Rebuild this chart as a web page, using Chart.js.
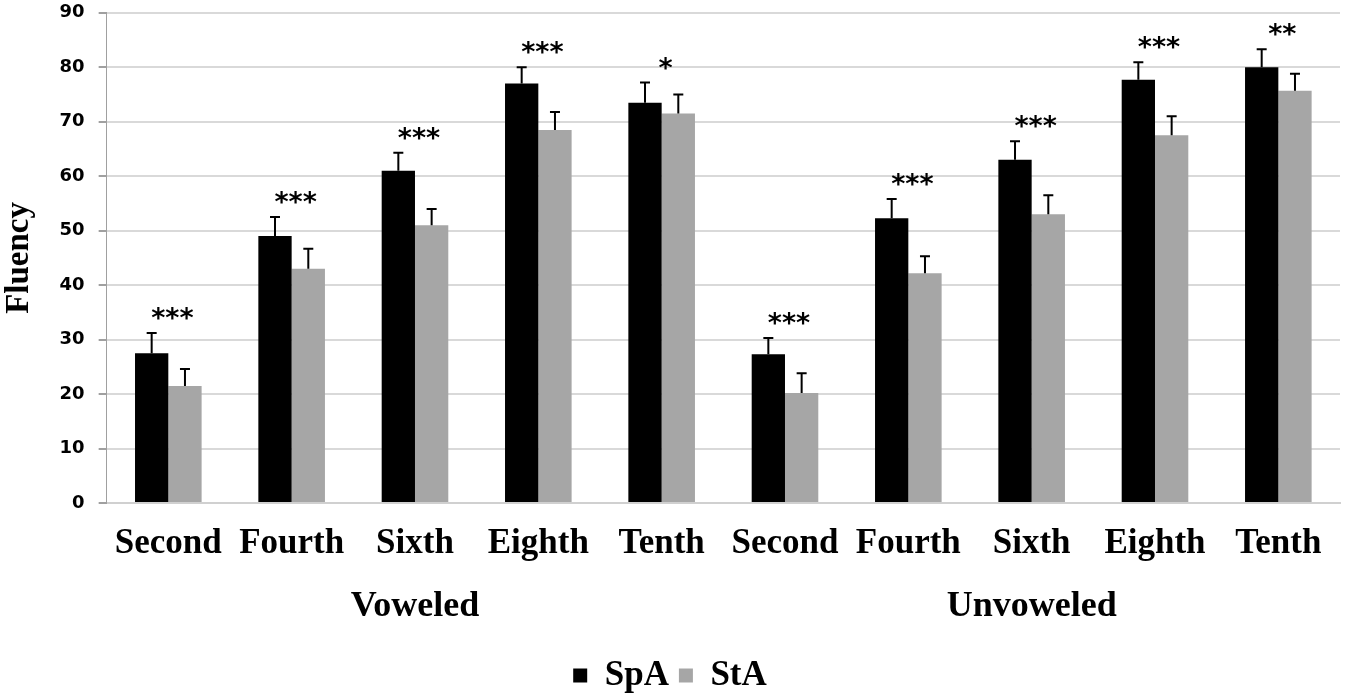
<!DOCTYPE html>
<html>
<head>
<meta charset="utf-8">
<script src="https://cdn.jsdelivr.net/npm/chart.js@4/dist/chart.umd.min.js"></script>
<style>
  body { margin: 0; background: #fff; }
  #wrap { width: 1350px; height: 693px; overflow: hidden; }
  /* chart.js keeps ~24px above the top gridline, pull it up a bit */
  #fluencyChart { display: block; margin-top: -12px; }
</style>
</head>
<body>
<div id="wrap"><canvas id="fluencyChart" width="1350" height="705"></canvas></div>
<script>
// grades, repeated for the two reading conditions
const grades = ['Second', 'Fourth', 'Sixth', 'Eighth', 'Tenth',
                'Second', 'Fourth', 'Sixth', 'Eighth', 'Tenth'];
const groups = ['Voweled', 'Unvoweled'];

// mean fluency per group
const spaMeans = [27.5, 49, 61, 77, 73.5, 27.3, 52.3, 63, 77.7, 80];
const staMeans = [21.5, 43, 51, 68.5, 71.5, 20.2, 42.2, 53, 67.5, 75.7];

// error bar half-lengths (upper only in the figure)
const spaErr = [3.7, 3.5, 3.3, 3.0, 3.7, 3.0, 3.5, 3.4, 3.2, 3.3];
const staErr = [3.1, 3.7, 3.0, 3.3, 3.5, 3.6, 3.1, 3.5, 3.5, 3.1];

// significance marks
const stars = ['***', '***', '***', '***', '*', '***', '***', '***', '***', '**'];

const yTicks = [0, 10, 20, 30, 40, 50, 60, 70, 80, 90];

const serif = '"Liberation Serif", "Times New Roman", serif';
const sans = '"DejaVu Sans", Verdana, sans-serif';

// draw upper error bars, stars and the group labels
const extras = {
  id: 'extras',
  afterDatasetsDraw(chart) {
    const ctx = chart.ctx;
    const y = chart.scales.y;
    const x = chart.scales.x;
    const errs = [spaErr, staErr];

    ctx.save();
    ctx.strokeStyle = '#000';
    ctx.lineWidth = 2;
    chart.data.datasets.forEach((ds, di) => {
      const meta = chart.getDatasetMeta(di);
      meta.data.forEach((bar, i) => {
        const top = y.getPixelForValue(ds.data[i] + errs[di][i]);
        ctx.beginPath();
        ctx.moveTo(bar.x, bar.y);
        ctx.lineTo(bar.x, top);
        ctx.moveTo(bar.x - 5, top);
        ctx.lineTo(bar.x + 5, top);
        ctx.stroke();
      });
    });

    // asterisks above each pair
    ctx.fillStyle = '#000';
    ctx.font = 'bold 27px ' + sans;
    ctx.textAlign = 'center';
    ctx.textBaseline = 'alphabetic';
    stars.forEach((s, i) => {
      const topVal = Math.max(spaMeans[i] + spaErr[i], staMeans[i] + staErr[i]);
      const py = y.getPixelForValue(topVal) - 6;
      ctx.fillText(s, x.getPixelForValue(i) + 4, py);
    });

    // Voweled / Unvoweled under the grade labels
    ctx.font = 'bold 36px ' + serif;
    groups.forEach((g, gi) => {
      const cx = (x.getPixelForValue(gi * 5) + x.getPixelForValue(gi * 5 + 4)) / 2;
      ctx.fillText(g, cx, x.bottom - 32);
    });
    ctx.restore();
  }
};

new Chart(document.getElementById('fluencyChart'), {
  type: 'bar',
  data: {
    labels: grades,
    datasets: [
      { label: 'SpA', data: spaMeans, backgroundColor: '#000000' },
      { label: 'StA', data: staMeans, backgroundColor: '#a6a6a6' }
    ]
  },
  options: {
    responsive: false,
    animation: false,
    devicePixelRatio: 1,
    layout: { padding: { top: 0, right: 10, left: 0, bottom: -10 } },
    datasets: { bar: { categoryPercentage: 0.54, barPercentage: 1.0 } },
    plugins: {
      legend: {
        position: 'bottom',
        labels: {
          color: '#000',
          font: { family: serif, size: 35, weight: 'bold' },
          boxWidth: 14,
          boxHeight: 14,
          padding: 10
        }
      },
      tooltip: { enabled: false }
    },
    scales: {
      x: {
        grid: { display: false },
        border: { color: '#d0d0d0', width: 2 },
        ticks: {
          color: '#000',
          font: { family: serif, size: 35, weight: 'bold' },
          padding: 12,
          maxRotation: 0,
          autoSkip: false
        },
        afterFit(scale) { scale.height += 71; }
      },
      y: {
        min: 0,
        max: 90,
        afterBuildTicks(scale) { scale.ticks = yTicks.map(v => ({ value: v })); },
        grid: { color: '#d9d9d9', lineWidth: 2, tickLength: 8, tickColor: '#a0a0a0' },
        border: { color: '#a0a0a0', width: 1 },
        ticks: {
          color: '#000',
          font: { family: sans, size: 18, weight: 'bold' },
          padding: 14
        },
        title: {
          display: true,
          text: 'Fluency',
          color: '#000',
          font: { family: serif, size: 33, weight: 'bold' },
          padding: { top: 0, bottom: 6 }
        }
      }
    }
  },
  plugins: [extras]
});
</script>
</body>
</html>
